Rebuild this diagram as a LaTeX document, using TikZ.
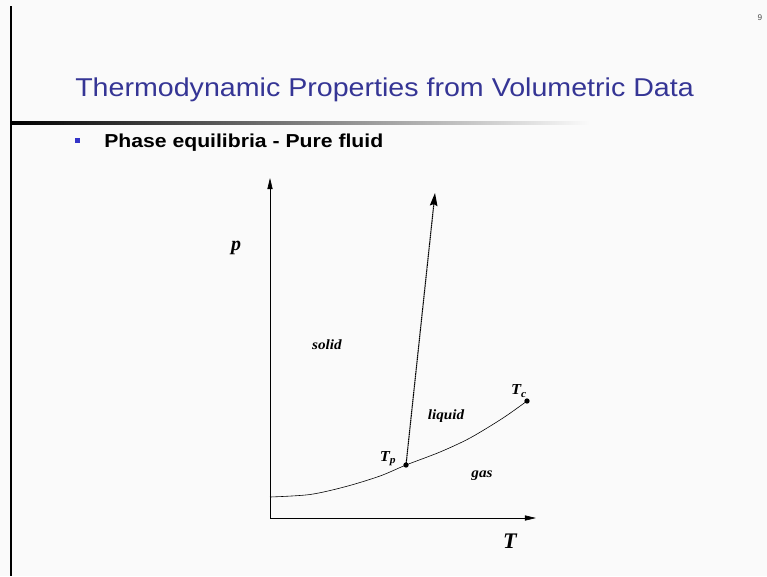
\documentclass[tikz,border=0pt]{standalone}
\usepackage{fontspec}
\setmainfont{Liberation Serif}
\newfontfamily\slidefont{Liberation Sans}
\usetikzlibrary{positioning,arrows.meta,calc}
\definecolor{slidebg}{HTML}{FAFAFA}
\definecolor{titleblue}{HTML}{353595}
\definecolor{bulletblue}{HTML}{3434C8}
\tikzset{
  axis/.style={-{Triangle[length=9.5pt,width=4.4pt]},line width=0.5pt},
  melt/.style={-{Stealth[length=11pt,width=6.5pt,inset=1.5pt]},line width=0.9pt,
    dash pattern=on 1.4pt off 0.4pt},
  vapcurve/.style={line width=0.5pt},
  dotpt/.style={circle,fill=black,inner sep=1.6pt},
  phase/.style={font=\bfseries\itshape\fontsize{12}{14}\selectfont,xscale=1.08,transform shape},
  axlbl/.style={font=\bfseries\itshape\fontsize{19}{21}\selectfont},
  slidetxt/.style={anchor=base west,inner sep=0pt,transform shape},
}
\begin{document}
\begin{tikzpicture}[x=0.03cm,y=-0.03cm]
  \fill[slidebg] (0,0) rectangle (767,576);
  \useasboundingbox (0,0) rectangle (767,576);
  % slide frame
  \draw[line width=1.3pt] (11,6) -- (11,576);
  \shade[left color=black,middle color=black!40,right color=slidebg]
    (11,121.5) rectangle (590,124.5);
  \node[font=\slidefont\fontsize{7}{8}\selectfont,text=black!70] (pagenum) at (760,18) {9};
  \node[slidetxt,xscale=1.11,text=titleblue,
    font=\slidefont\fontsize{22}{24}\selectfont] (title) at (75,96)
    {Thermodynamic Properties from Volumetric Data};
  \fill[bulletblue] (74.5,138) rectangle (79.5,143);
  \node[slidetxt,xscale=1.13,
    font=\slidefont\bfseries\fontsize{16}{18}\selectfont] (subtitle) at (104,147)
    {Phase equilibria - Pure fluid};
  % p-T diagram
  \coordinate (O) at (270,518);
  \coordinate (ptop) at (270,178);
  \coordinate (Tend) at (536,518);
  \draw[axis] (O) -- (ptop);
  \draw[axis] (O) -- (Tend);
  \node[axlbl,font=\bfseries\itshape\fontsize{17}{19}\selectfont] (plbl) at (236,248) {p};
  \node[axlbl] (Tlbl) at (510,541) {T};
  \node[dotpt] (Tp) at (406,465) {};
  \node[dotpt] (Tc) at (527,401) {};
  \coordinate (meltend) at (435,193);
  \draw[vapcurve] plot[smooth] coordinates {(270,497) (310,494.5) (346,486.5)
    (380,476) (406,465) (440,452) (470,438) (503,418) (527,401)};
  \draw[melt] (Tp.center) -- (meltend);
  \node[phase] (solid) at (327,345) {solid};
  \node[phase] (liquid) at (446,416) {liquid};
  \node[phase] (gas) at (482,476) {gas};
  \node[phase,font=\bfseries\itshape\fontsize{13}{15}\selectfont] (Tplbl) at (388,459) {T\textsubscript{p}};
  \node[phase,font=\bfseries\itshape\fontsize{13}{15}\selectfont] (Tclbl) at (519,391) {T\textsubscript{c}};
\end{tikzpicture}
\end{document}
